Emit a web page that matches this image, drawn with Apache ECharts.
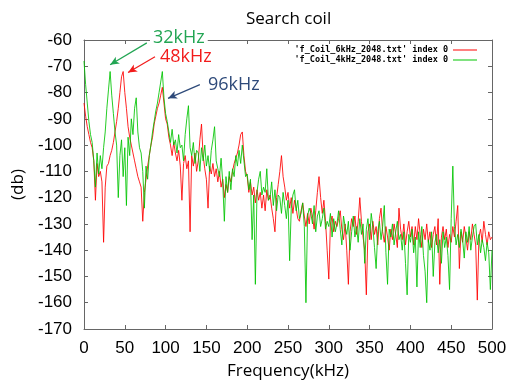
<!DOCTYPE html>
<html>
<head>
<meta charset="utf-8">
<script src="https://cdn.jsdelivr.net/npm/echarts@6/dist/echarts.min.js"></script>
<style>
  html, body { margin: 0; padding: 0; background: #fff; }
  #chart { width: 510px; height: 385px; }
</style>
</head>
<body>
<div id="chart"></div>
<script>
// spectra, one value every 2 kHz from 0 to 500 kHz
const coil6kHz = [
  -84, -89, -93, -96, -99, -101, -106, -121, -107, -112,
  -110, -114, -137, -116, -108, -107, -104, -102, -99, -95,
  -91, -86, -80, -74, -72, -80, -86, -93, -97, -100,
  -103, -106, -109, -112, -114, -116, -129, -118, -113, -108,
  -104, -100, -97, -92, -89, -86, -84, -81, -78, -84,
  -90, -92, -97, -100, -104, -99, -103, -106, -102, -108,
  -121, -107, -104, -109, -106, -133, -104, -108, -103, -110,
  -106, -98, -92, -104, -109, -113, -124, -108, -111, -107,
  -112, -109, -114, -110, -116, -113, -120, -115, -118, -112,
  -114, -110, -107, -105, -103, -100, -96, -95, -104, -110,
  -112, -118, -114, -119, -116, -122, -117, -121, -118, -124,
  -119, -125, -117, -121, -119, -124, -128, -133, -120, -115,
  -110, -104, -112, -116, -121, -118, -124, -120, -126, -121,
  -124, -128, -129, -125, -122, -127, -131, -126, -130, -124,
  -127, -132, -125, -118, -112, -120, -126, -121, -129, -140,
  -151, -130, -127, -133, -129, -131, -128, -125, -132, -136,
  -130, -140, -153, -133, -128, -131, -127, -134, -129, -120,
  -129, -135, -140, -157, -133, -130, -136, -129, -134, -131,
  -138, -128, -124, -133, -137, -131, -135, -140, -132, -136,
  -130, -134, -139, -124, -132, -136, -130, -138, -133, -129,
  -135, -131, -138, -131, -136, -128, -134, -139, -132, -136,
  -130, -137, -133, -139, -134, -131, -138, -128, -153, -135,
  -131, -136, -132, -139, -134, -137, -131, -135, -129, -123,
  -147, -133, -137, -131, -135, -140, -133, -136, -130, -134,
  -138, -159, -135, -132, -137, -129, -134, -138, -133, -136,
  -135
];
const coil4kHz = [
  -68, -77, -84, -91, -96, -99, -106, -116, -103, -111,
  -104, -109, -101, -95, -86, -79, -72, -81, -88, -95,
  -100, -120, -104, -98, -112, -101, -123, -97, -104, -90,
  -96, -86, -82, -95, -101, -103, -110, -124, -108, -113,
  -104, -100, -95, -91, -87, -84, -80, -76, -72, -82,
  -88, -91, -95, -99, -94, -100, -98, -103, -96, -101,
  -100, -106, -96, -90, -85, -101, -104, -99, -107, -102,
  -103, -110, -101, -106, -100, -108, -104, -110, -102, -98,
  -93, -106, -109, -112, -105, -114, -129, -112, -118, -110,
  -117, -109, -112, -104, -108, -102, -107, -100, -106, -112,
  -111, -117, -113, -136, -119, -153, -118, -113, -110, -119,
  -116, -118, -109, -121, -120, -114, -123, -117, -125, -119,
  -120, -126, -118, -123, -128, -121, -144, -124, -119, -117,
  -125, -121, -128, -126, -122, -131, -160, -127, -124, -126,
  -130, -123, -133, -127, -125, -131, -128, -124, -132, -129,
  -131, -126, -135, -128, -133, -130, -125, -132, -138, -127,
  -131, -134, -129, -140, -133, -127, -135, -131, -137, -128,
  -134, -130, -145, -132, -128, -136, -126, -131, -139, -147,
  -133, -129, -136, -131, -123, -141, -153, -132, -135, -130,
  -138, -133, -129, -136, -134, -140, -133, -145, -157, -134,
  -137, -132, -141, -135, -154, -133, -139, -131, -142, -148,
  -160, -136, -140, -133, -150, -137, -134, -141, -136, -145,
  -133, -139, -135, -142, -155, -128, -108, -131, -138, -134,
  -139, -132, -136, -143, -133, -137, -131, -140, -135, -131,
  -130, -138, -134, -141, -136, -139, -144, -137, -141, -155,
  -140
];
const freqKHz = coil6kHz.map((_, i) => i * 2);
const xTicks = [0, 500, 50];
const yTicks = [-170, -60, 10];

const legendRed = "'f_Coil_6kHz_2048.txt' index 0";
const legendGreen = "'f_Coil_4kHz_2048.txt' index 0";

const frameColor = '#666';
const labelFont = { color: '#000', fontSize: 17, fontFamily: 'Liberation Sans' };

const chart = echarts.init(document.getElementById('chart'), null, { renderer: 'canvas' });

const axisBase = {
	type: 'value',
	axisLine: { show: true, onZero: false, lineStyle: { color: frameColor, width: 1 } },
	axisTick: { show: true, inside: true, length: 4, lineStyle: { color: frameColor } },
	splitLine: { show: false },
};

chart.setOption({
	animation: false,
	backgroundColor: '#fff',
	title: {
		text: 'Search coil',
		left: 241,
		top: 6,
		textStyle: { fontSize: 17, fontWeight: 'normal', fontFamily: 'Open Sans', color: '#000' },
	},
	legend: {
		orient: 'vertical',
		right: 28,
		top: 40,
		align: 'right',
		itemGap: 0,
		itemWidth: 24,
		itemHeight: 1,
		icon: 'rect',
		textStyle: { fontSize: 8.5, fontWeight: 'bold', fontFamily: 'DejaVu Sans Mono', color: '#000', lineHeight: 10 },
		data: [legendRed, legendGreen],
	},
	grid: { left: 84, right: 18, top: 40, bottom: 53 },
	xAxis: [
		{
			...axisBase,
			min: xTicks[0], max: xTicks[1], interval: xTicks[2],
			position: 'bottom',
			axisLabel: { ...labelFont, margin: 11 },
			name: 'Frequency(kHz)',
			nameLocation: 'middle',
			nameGap: 34,
			nameTextStyle: { color: '#000', fontSize: 17, fontFamily: 'Open Sans' },
		},
		{
			...axisBase,
			min: xTicks[0], max: xTicks[1], interval: xTicks[2],
			position: 'top',
			axisLabel: { show: false },
		},
	],
	yAxis: [
		{
			...axisBase,
			min: yTicks[0], max: yTicks[1], interval: yTicks[2],
			position: 'left',
			axisLabel: { ...labelFont, margin: 12 },
			name: '(db)',
			nameLocation: 'middle',
			nameGap: 56,
			nameTextStyle: { color: '#000', fontSize: 17, fontFamily: 'Open Sans' },
		},
		{
			...axisBase,
			min: yTicks[0], max: yTicks[1], interval: yTicks[2],
			position: 'right',
			axisLabel: { show: false },
		},
	],
	series: [
		{
			name: legendRed,
			type: 'line',
			data: freqKHz.map((f, i) => [f, coil6kHz[i]]),
			showSymbol: false,
			color: '#ff0000',
			lineStyle: { width: 1, opacity: 0.85 },
			z: 2,
		},
		{
			name: legendGreen,
			type: 'line',
			data: freqKHz.map((f, i) => [f, coil4kHz[i]]),
			showSymbol: false,
			color: '#00c400',
			lineStyle: { width: 1, opacity: 0.85 },
			z: 3,
			markLine: {
				silent: true,
				symbol: ['none', 'arrow'],
				symbolSize: [6, 9],
				label: { show: false },
				data: [
					[{ coord: [77, -61.1], lineStyle: { color: '#22a553', width: 1.2, type: 'solid' } }, { coord: [32, -69.4] }],
					[{ coord: [87, -66.4], lineStyle: { color: '#f21b1b', width: 1.2, type: 'solid' } }, { coord: [54, -72.4] }],
					[{ coord: [142, -77], lineStyle: { color: '#2e4a7a', width: 1.2, type: 'solid' } }, { coord: [103, -82.2] }],
				],
			},
		},
	],
	graphic: [
		{
			type: 'text', left: 150, top: 29, z: 100,
			style: { text: '32kHz', fill: '#22a553', fontSize: 18, fontFamily: 'Open Sans', backgroundColor: '#fff', padding: [0, 3] },
		},
		{
			type: 'text', left: 160, top: 48, z: 100,
			style: { text: '48kHz', fill: '#f21b1b', fontSize: 18, fontFamily: 'Open Sans' },
		},
		{
			type: 'text', left: 208, top: 76, z: 100,
			style: { text: '96kHz', fill: '#2e4a7a', fontSize: 18, fontFamily: 'Open Sans' },
		},
	],
});
</script>
</body>
</html>
